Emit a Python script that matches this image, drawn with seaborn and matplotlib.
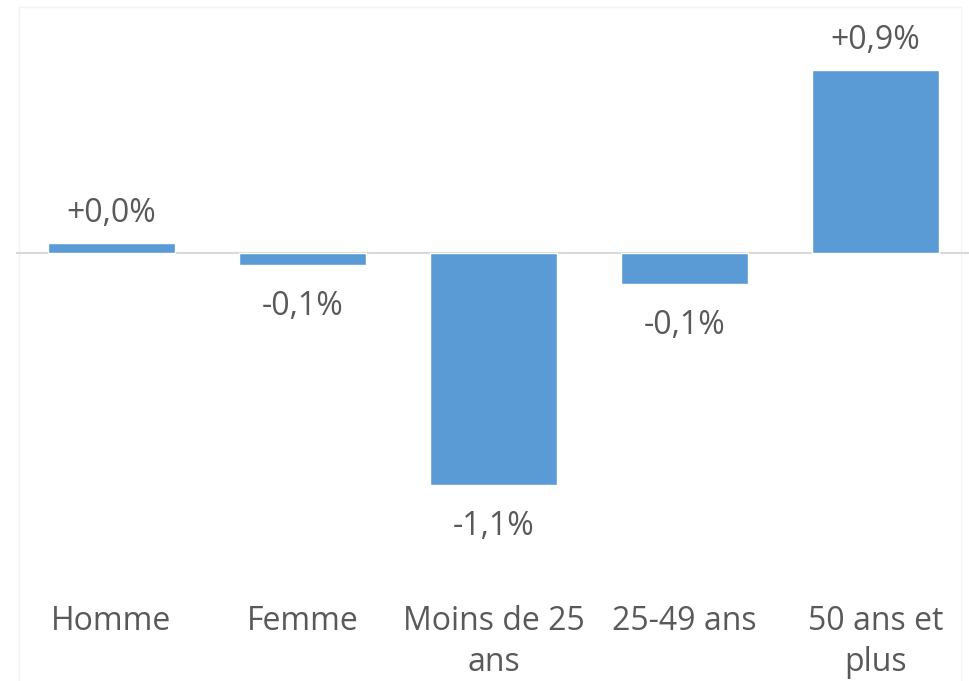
import matplotlib

matplotlib.use("Agg")
import matplotlib.pyplot as plt
import pandas as pd
import seaborn as sns
from matplotlib.patches import Rectangle

# data (bar heights in %, printed labels as shown)
categories = ["Homme", "Femme", "Moins de 25\nans", "25-49 ans", "50 ans et\nplus"]
values = [0.05, -0.06, -1.12, -0.15, 0.885]
value_labels = ["+0,0%", "-0,1%", "-1,1%", "-0,1%", "+0,9%"]

BAR_COLOR = "#5B9BD5"
TEXT_COLOR = "#595959"

sns.set_theme(style="white")
plt.rcParams["font.family"] = ["Open Sans", "DejaVu Sans"]

df = pd.DataFrame({"categorie": categories, "variation": values})

fig = plt.figure(figsize=(9.69, 6.81), dpi=100)
ax = fig.add_axes([16 / 969, 91 / 681, 955 / 969, 580 / 681])
ax.patch.set_alpha(0)

# faint chart-area frame like the original export
fig.add_artist(
    Rectangle(
        (19 / 969, -0.05),
        942 / 969,
        (681 - 7) / 681 + 0.05,
        transform=fig.transFigure,
        fill=False,
        edgecolor="#f3f3f3",
        linewidth=1,
        zorder=0,
    )
)

sns.barplot(
    data=df,
    x="categorie",
    y="variation",
    color=BAR_COLOR,
    saturation=1,
    width=0.665,
    ax=ax,
)

ax.set_xlim(-0.5, 4.5)
ax.set_ylim(-1.628, 1.174)
ax.axhline(0, color="#d9d9d9", linewidth=1.5, zorder=0)

# value labels above / below the bars
for i, (v, lab) in enumerate(zip(values, value_labels)):
    offset = 9 if v >= 0 else -18
    ax.annotate(
        lab,
        xy=(i, v),
        xytext=(0, offset),
        textcoords="offset points",
        ha="center",
        va="bottom" if v >= 0 else "top",
        fontsize=23,
        color=TEXT_COLOR,
    )

ax.set_xlabel("")
ax.set_ylabel("")
ax.set_yticks([])
ax.tick_params(axis="x", length=0, pad=11)
for t in ax.get_xticklabels():
    t.set_fontsize(23)
    t.set_color(TEXT_COLOR)
    t.set_linespacing(1.32)
    t.set_verticalalignment("top")

for s in ax.spines.values():
    s.set_visible(False)

fig.savefig("out.png", dpi=100, facecolor="white")
